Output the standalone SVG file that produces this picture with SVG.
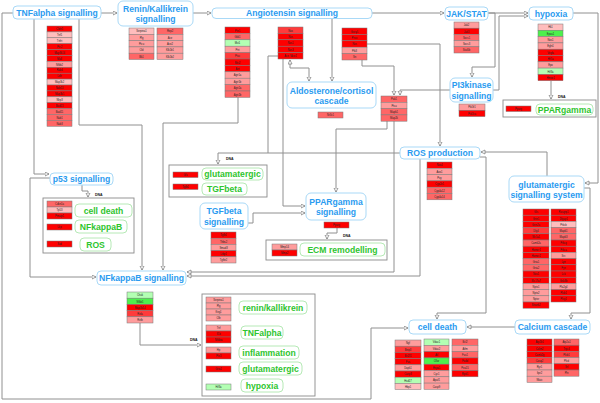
<svg xmlns="http://www.w3.org/2000/svg" width="600" height="403" viewBox="0 0 600 403">
<defs>
<style>
.n rect{fill:#fff;stroke:#a9d9f7;stroke-width:1}
.n text{font-family:"Liberation Sans",Arial,sans-serif;font-weight:bold;font-size:8.6px;fill:#2a9bf0;text-anchor:middle}
.l rect{fill:#fff;stroke:#a3e3a3;stroke-width:0.8}
.l text{font-family:"Liberation Sans",Arial,sans-serif;font-weight:bold;font-size:8.6px;fill:#2ec52e;text-anchor:middle}
.box{fill:#fff;stroke:#8a8a8a;stroke-width:0.9}
.t rect{stroke:#7a7a7a;stroke-width:0.5}
.t text{font-family:"Liberation Sans",Arial,sans-serif;font-size:2.6px;fill:#222;text-anchor:middle}
.r0{fill:#fe0000}.r1{fill:#ff3b3b}.r2{fill:#ff6666}.r3{fill:#ff9c9c}.r4{fill:#ffbdbd}.g1{fill:#4df04d}.g2{fill:#b3ffb3}
#edges path{fill:none;stroke:#909090;stroke-width:1;marker-end:url(#a)}
.dna{font-family:"Liberation Sans",Arial,sans-serif;font-weight:bold;font-size:3.5px;fill:#111}
</style>
<marker id="a" markerUnits="userSpaceOnUse" markerWidth="6" markerHeight="6" refX="4.5" refY="2.5" orient="auto-start-reverse"><path d="M0.5,0.5 L4.5,2.5 L0.5,4.5 z" fill="#fff" stroke="#777" stroke-width="0.7"/></marker>
</defs>
<rect width="600" height="403" fill="#fff"/>

<g id="edges">
<path d="M13,13 H2 V399 H371 V328 H408"/>
<path d="M101,13 H117"/>
<path d="M193,13 H211"/>
<path d="M372,13 H444"/>
<path d="M488,13 H528"/>
<path d="M488,13 H495 V67 H472 V77"/>
<path d="M493,90 H499 V16 H528"/>
<path d="M450,90 H400 V95"/>
<path d="M362,60 V66 H394 V95"/>
<path d="M332,18.5 V81"/>
<path d="M309,81 V68 H290 V60" style="marker-start:url(#a)"/>
<path d="M278,56 H268 V153" style="marker-end:none"/>
<path d="M283,59 V206 H305"/>
<path d="M248,223 H253 V213 H305"/>
<path d="M387,121 V129 H336 V192"/>
<path d="M394,121 V272 H187"/>
<path d="M420,159 V276 H187"/>
<path d="M400,153 H218 V164"/>
<path d="M367,44 H440 V146"/>
<path d="M547,176 V152 H481"/>
<path d="M480,157 H486 V313 H437 V319"/>
<path d="M573,13 H598 V183 H585"/>
<path d="M584,188 H590 V313 H571 V319"/>
<path d="M515,327 H467"/>
<path d="M551,81 V99"/>
<path d="M82,185 V191 H88 V197"/>
<path d="M337,228 V233 H327 V239"/>
<path d="M140,323 V345 H201"/>
<path d="M34,19 V174 H49"/>
<path d="M50,178 H30 V277 H96"/>
<path d="M79,19 V125 H142 V270"/>
<path d="M238,97 V123 H163 V270"/>
</g>
<text class="dna" x="95" y="196">DNA</text>
<text class="dna" x="226" y="160">DNA</text>
<text class="dna" x="343" y="237">DNA</text>
<text class="dna" x="558" y="98">DNA</text>
<text class="dna" x="190" y="341">DNA</text>

<!-- nodes -->
<g id="tnf" class="n"><rect x="13" y="6" width="88" height="13" rx="4"/><text x="57" y="15.8">TNFalpha signalling</text></g>
<g id="renin" class="n"><rect x="118" y="1" width="75" height="25" rx="5"/><text x="155.5" y="11.5">Renin/Kallikrein</text><text x="155.5" y="21.5">signalling</text></g>
<g id="angio" class="n"><rect x="212" y="8" width="160" height="10.5" rx="4"/><text x="292" y="16.3">Angiotensin signalling</text></g>
<g id="jak" class="n"><rect x="445" y="7" width="43" height="13" rx="4"/><text x="466.5" y="16.5">JAK/STAT</text></g>
<g id="hypoxia" class="n"><rect x="529" y="7" width="44" height="13" rx="4"/><text x="551" y="16.5">hypoxia</text></g>
<g id="pi3k" class="n"><rect x="450" y="78" width="43" height="24" rx="5"/><text x="471.5" y="88">PI3kinase</text><text x="471.5" y="98.5">signalling</text></g>
<g id="aldo" class="n"><rect x="287" y="82" width="89" height="26" rx="5"/><text x="331.5" y="93.5">Aldosterone/cortisol</text><text x="331.5" y="104">cascade</text></g>
<g id="ros" class="n"><rect x="400" y="147" width="80" height="12" rx="4"/><text x="440" y="156">ROS production</text></g>
<g id="glusys" class="n"><rect x="509" y="176" width="75" height="26" rx="5"/><text x="546.5" y="187.5">glutamatergic</text><text x="546.5" y="198">signalling system</text></g>
<g id="p53" class="n"><rect x="50" y="173" width="63" height="12" rx="4"/><text x="81.5" y="182">p53 signalling</text></g>
<g id="tgfb" class="n"><rect x="200" y="203" width="48" height="26" rx="5"/><text x="224" y="214">TGFbeta</text><text x="224" y="225">signalling</text></g>
<g id="pparg" class="n"><rect x="306" y="193" width="60" height="27" rx="5"/><text x="336" y="204.5">PPARgamma</text><text x="336" y="215">signalling</text></g>
<g id="nfkb" class="n"><rect x="97" y="271" width="89" height="14" rx="4"/><text x="141.5" y="281">NFkappaB signalling</text></g>
<g id="celldeath" class="n"><rect x="409" y="320" width="57" height="14" rx="4"/><text x="437.5" y="330">cell death</text></g>
<g id="calcium" class="n"><rect x="515" y="320" width="75" height="14" rx="4"/><text x="552.5" y="330">Calcium cascade</text></g>

<!-- DNA target boxes -->
<g id="p53-targets">
<rect class="box" x="43" y="198" width="91" height="55"/>
<g class="t" transform="translate(47,201)">
<rect class="r2" y="0" width="25" height="6"/><text x="12.5" y="4.2">Cdkn1a</text>
<rect class="r4" y="6" width="25" height="6"/><text x="12.5" y="10.2">Tp53</text>
<rect class="r0" y="12" width="25" height="6"/><text x="12.5" y="16.2">Pmaip1</text>
<rect class="r0" y="23" width="25" height="6"/><text x="12.5" y="27.2">Ucp</text>
<rect class="r0" y="40" width="25" height="6"/><text x="12.5" y="44.2">Sod</text>
</g>
<g class="l"><rect x="75" y="204" width="57" height="13" rx="4"/><text x="103.5" y="213.5">cell death</text></g>
<g class="l"><rect x="75" y="220" width="52" height="13" rx="4"/><text x="101" y="229.5">NFkappaB</text></g>
<g class="l"><rect x="80" y="238" width="31" height="13" rx="4"/><text x="95.5" y="247.5">ROS</text></g>
</g>

<g id="ros-targets">
<rect class="box" x="169" y="165" width="98" height="32"/>
<g class="t" transform="translate(173,172)">
<rect class="r0" y="0" width="25" height="5.5"/><text x="12.5" y="3.9">Gls</text>
<rect class="r0" y="12" width="25" height="5.5"/><text x="12.5" y="15.9">Tgfb1</text>
</g>
<g class="l"><rect x="202" y="168" width="61" height="12" rx="4"/><text x="232.5" y="177">glutamatergic</text></g>
<g class="l"><rect x="202" y="183" width="45" height="12" rx="4"/><text x="224.5" y="192">TGFbeta</text></g>
</g>

<g id="pparg-targets">
<rect class="box" x="266" y="240" width="121" height="20"/>
<g class="t" transform="translate(272,244)">
<rect class="r3" y="0" width="25" height="6"/><text x="12.5" y="4.2">Mmp14</text>
<rect class="r0" y="6" width="25" height="6"/><text x="12.5" y="10.2">Mmp2</text>
</g>
<g class="l"><rect x="300" y="243" width="85" height="13" rx="4"/><text x="342.5" y="252.5">ECM remodelling</text></g>
</g>

<g id="hypoxia-targets">
<rect class="box" x="503" y="100" width="93" height="17"/>
<g class="t" transform="translate(506,106)">
<rect class="r0" y="0" width="25" height="5.5"/><text x="12.5" y="3.9">Pparg</text>
</g>
<g class="l"><rect x="536" y="104" width="57" height="11" rx="4"/><text x="564.5" y="112.7">PPARgamma</text></g>
</g>

<g id="nfkb-targets">
<rect class="box" x="202" y="294" width="113" height="102"/>
<g class="t" transform="translate(206,297)">
<rect class="r3" y="0" width="25" height="6"/><text x="12.5" y="4.2">Serpina1</text>
<rect class="r3" y="6" width="25" height="6"/><text x="12.5" y="10.2">Plg</text>
<rect class="r3" y="12" width="25" height="6"/><text x="12.5" y="16.2">Kng1</text>
<rect class="r3" y="18" width="25" height="6"/><text x="12.5" y="22.2">Cfb</text>
<rect class="r3" y="28" width="25" height="6"/><text x="12.5" y="32.2">Tnf</text>
<rect class="r0" y="34" width="25" height="6"/><text x="12.5" y="38.2">Il1b</text>
<rect class="r0" y="40" width="25" height="6"/><text x="12.5" y="44.2">Nfkbia</text>
<rect class="r3" y="50" width="25" height="6"/><text x="12.5" y="54.2">Hp</text>
<rect class="r0" y="56" width="25" height="6"/><text x="12.5" y="60.2">Ptx3</text>
<rect class="r0" y="69" width="25" height="6"/><text x="12.5" y="73.2">Gria1</text>
<rect class="g2" y="87" width="25" height="6"/><text x="12.5" y="91.2">Hif3a</text>
</g>
<g class="l"><rect x="239" y="301" width="68" height="13" rx="4"/><text x="273" y="310.5">renin/kallikrein</text></g>
<g class="l"><rect x="241" y="326" width="42" height="13" rx="4"/><text x="262" y="335.5">TNFalpha</text></g>
<g class="l"><rect x="239" y="346" width="60" height="13" rx="4"/><text x="269" y="355.5">inflammation</text></g>
<g class="l"><rect x="239" y="362" width="63" height="13" rx="4"/><text x="270.5" y="371.5">glutamatergic</text></g>
<g class="l"><rect x="241" y="379" width="42" height="13" rx="4"/><text x="262" y="388.5">hypoxia</text></g>
</g>

<!-- gene tables -->
<g id="tnf-genes" class="t" transform="translate(47,26)">
<rect class="r0" y="0" width="25" height="5.9"/><text x="12.5" y="4.1">Cldn5</text>
<rect class="r4" y="5.9" width="25" height="5.9"/><text x="12.5" y="10">Tnf1</text>
<rect class="r4" y="11.8" width="25" height="5.9"/><text x="12.5" y="15.9">Tnfrt</text>
<rect class="r0" y="17.7" width="25" height="5.9"/><text x="12.5" y="21.8">Ptc2</text>
<rect class="r0" y="23.6" width="25" height="5.9"/><text x="12.5" y="27.7">Map3k14</text>
<rect class="r0" y="29.5" width="25" height="5.9"/><text x="12.5" y="33.6">Mall</text>
<rect class="r3" y="35.4" width="25" height="5.9"/><text x="12.5" y="39.5">Nfkb2</text>
<rect class="r0" y="41.3" width="25" height="5.9"/><text x="12.5" y="45.4">Rab4</text>
<rect class="r0" y="47.2" width="25" height="5.9"/><text x="12.5" y="51.3">Ldlr</text>
<rect class="r4" y="53.1" width="25" height="5.9"/><text x="12.5" y="57.2">Map3k2</text>
<rect class="r0" y="59" width="25" height="5.9"/><text x="12.5" y="63.1">Nab13</text>
<rect class="r0" y="64.9" width="25" height="5.9"/><text x="12.5" y="69">Map3k1</text>
<rect class="r4" y="70.8" width="25" height="5.9"/><text x="12.5" y="74.9">Nlrp3</text>
<rect class="r0" y="76.7" width="25" height="5.9"/><text x="12.5" y="80.8">Bad13</text>
<rect class="r2" y="82.6" width="25" height="5.9"/><text x="12.5" y="86.7">Bad11</text>
<rect class="r2" y="88.5" width="25" height="5.9"/><text x="12.5" y="92.6">Nab1</text>
<rect class="r2" y="94.4" width="25" height="5.9"/><text x="12.5" y="98.5">Nab3</text>
</g>

<g id="renin-genes1" class="t" transform="translate(129,28)">
<rect class="r4" y="0" width="25" height="6.3"/><text x="12.5" y="4.4">Serpina1</text>
<rect class="r3" y="6.3" width="25" height="6.3"/><text x="12.5" y="10.7">Plg</text>
<rect class="r3" y="12.6" width="25" height="6.3"/><text x="12.5" y="17">Ptcu</text>
<rect class="r3" y="18.9" width="25" height="6.3"/><text x="12.5" y="23.3">Cfd</text>
<rect class="r2" y="25.2" width="25" height="6.3"/><text x="12.5" y="29.6">Bk1</text>
</g>
<g id="renin-genes2" class="t" transform="translate(157,28)">
<rect class="r2" y="0" width="26" height="6.3"/><text x="13" y="4.4">Rep2</text>
<rect class="r3" y="6.3" width="26" height="6.3"/><text x="13" y="10.7">Ace</text>
<rect class="r3" y="12.6" width="26" height="6.3"/><text x="13" y="17">Ace2</text>
<rect class="r3" y="18.9" width="26" height="6.3"/><text x="13" y="23.3">Klk1b1</text>
<rect class="r3" y="25.2" width="26" height="6.3"/><text x="13" y="29.6">Klk1b2</text>
</g>

<g id="angio-genesA" class="t" transform="translate(225,27)">
<rect class="r0" y="0" width="25" height="6.4"/><text x="12.5" y="4.5">Ptn1</text>
<rect class="r2" y="6.4" width="25" height="6.4"/><text x="12.5" y="10.9">Gkk1</text>
<rect class="g2" y="12.8" width="25" height="6.4"/><text x="12.5" y="17.3">Mst1</text>
<rect class="r3" y="19.2" width="25" height="6.4"/><text x="12.5" y="23.7">Pnt</text>
<rect class="r1" y="25.6" width="25" height="6.4"/><text x="12.5" y="30.1">Ptsc</text>
<rect class="r0" y="32" width="25" height="6.4"/><text x="12.5" y="36.5">Mst2</text>
<rect class="r0" y="38.4" width="25" height="6.4"/><text x="12.5" y="42.9">Ant</text>
<rect class="r3" y="44.8" width="25" height="6.4"/><text x="12.5" y="49.3">Agtr1a</text>
<rect class="r3" y="51.2" width="25" height="6.4"/><text x="12.5" y="55.7">Agtr1b</text>
<rect class="r2" y="57.6" width="25" height="6.4"/><text x="12.5" y="62.1">Agtr2a</text>
<rect class="r2" y="64" width="25" height="6.4"/><text x="12.5" y="68.5">Agtr2b</text>
</g>
<g id="angio-genesB" class="t" transform="translate(278,27)">
<rect class="r1" y="0" width="25" height="6.4"/><text x="12.5" y="4.5">Nox</text>
<rect class="r0" y="6.4" width="25" height="6.4"/><text x="12.5" y="10.9">Nos</text>
<rect class="r0" y="12.8" width="25" height="6.4"/><text x="12.5" y="17.3">Nos1</text>
<rect class="r0" y="19.2" width="25" height="6.4"/><text x="12.5" y="23.7">Nos3</text>
<rect class="r0" y="25.6" width="25" height="6.4"/><text x="12.5" y="30.1">Ace / Ace2</text>
</g>
<g id="angio-genesC" class="t" transform="translate(342,28)">
<rect class="r0" y="0" width="25" height="6.4"/><text x="12.5" y="4.5">Gucy1</text>
<rect class="r0" y="6.4" width="25" height="6.4"/><text x="12.5" y="10.9">Pnoc</text>
<rect class="r0" y="12.8" width="25" height="6.4"/><text x="12.5" y="17.3">Nos</text>
<rect class="r3" y="19.2" width="25" height="6.4"/><text x="12.5" y="23.7">Pik3</text>
<rect class="r2" y="25.6" width="25" height="6.4"/><text x="12.5" y="30.1">Sn</text>
</g>
<g id="aldo-genes" class="t" transform="translate(318,112)">
<rect class="r2" y="0" width="25" height="6"/><text x="12.5" y="4.2">Nr3c1</text>
</g>
<g id="pak-genes" class="t" transform="translate(381,96)">
<rect class="r2" y="0" width="26" height="6.3"/><text x="13" y="4.4">Pak1</text>
<rect class="r3" y="6.3" width="26" height="6.3"/><text x="13" y="10.7">Ptsu</text>
<rect class="r2" y="12.6" width="26" height="6.3"/><text x="13" y="17">Mapk1</text>
<rect class="r2" y="18.9" width="26" height="6.3"/><text x="13" y="23.3">Map2k</text>
</g>
<g id="jak-genes" class="t" transform="translate(454,22)">
<rect class="r3" y="0" width="25" height="6.2"/><text x="12.5" y="4.4">Jak2</text>
<rect class="r0" y="6.2" width="25" height="6.2"/><text x="12.5" y="10.6">Jak3</text>
<rect class="r2" y="12.4" width="25" height="6.2"/><text x="12.5" y="16.8">Socs1</text>
<rect class="r3" y="18.6" width="25" height="6.2"/><text x="12.5" y="23">Socs3</text>
<rect class="r2" y="24.8" width="25" height="6.2"/><text x="12.5" y="29.2">Stat5b</text>
</g>
<g id="pi3k-genes" class="t" transform="translate(459,104)">
<rect class="r3" y="0" width="26" height="6.3"/><text x="13" y="4.4">Pik3r1</text>
<rect class="r0" y="6.3" width="26" height="6.3"/><text x="13" y="10.7">Pik3ca</text>
</g>
<g id="hypoxia-genes" class="t" transform="translate(538,24)">
<rect class="r4" y="0" width="25" height="6.3"/><text x="12.5" y="4.4">Hk1</text>
<rect class="g1" y="6.3" width="25" height="6.3"/><text x="12.5" y="10.7">Epas1</text>
<rect class="r3" y="12.6" width="25" height="6.3"/><text x="12.5" y="17">Nos1</text>
<rect class="r3" y="18.9" width="25" height="6.3"/><text x="12.5" y="23.3">Egln1</text>
<rect class="r0" y="25.2" width="25" height="6.3"/><text x="12.5" y="29.6">Vegfa</text>
<rect class="r0" y="31.5" width="25" height="6.3"/><text x="12.5" y="35.9">Hif1a</text>
<rect class="r3" y="37.8" width="25" height="6.3"/><text x="12.5" y="42.2">Epo</text>
<rect class="g2" y="44.1" width="25" height="6.3"/><text x="12.5" y="48.5">Hif3a</text>
<rect class="r0" y="50.4" width="25" height="6.3"/><text x="12.5" y="54.8">Hmox1</text>
</g>
<g id="ros-genes" class="t" transform="translate(427,162)">
<rect class="r0" y="0" width="25" height="6.3"/><text x="12.5" y="4.4">Nox4</text>
<rect class="r3" y="6.3" width="25" height="6.3"/><text x="12.5" y="10.7">Aox1</text>
<rect class="r3" y="12.6" width="25" height="6.3"/><text x="12.5" y="17">Pxy</text>
<rect class="r0" y="18.9" width="25" height="6.3"/><text x="12.5" y="23.3">Cyp2e1</text>
<rect class="r2" y="25.2" width="25" height="6.3"/><text x="12.5" y="29.6">Cyp4a12</text>
<rect class="r2" y="31.5" width="25" height="6.3"/><text x="12.5" y="35.9">Cyp4a14</text>
</g>
<g id="tgfb-genes" class="t" transform="translate(211,232)">
<rect class="r0" y="0" width="25" height="6.2"/><text x="12.5" y="4.4">Tgfb1</text>
<rect class="r2" y="6.2" width="25" height="6.2"/><text x="12.5" y="10.6">Thbs2</text>
<rect class="r3" y="12.4" width="25" height="6.2"/><text x="12.5" y="16.8">Smad3</text>
<rect class="r0" y="18.6" width="25" height="6.2"/><text x="12.5" y="23">Ltbp1</text>
<rect class="r3" y="24.8" width="25" height="6.2"/><text x="12.5" y="29.2">Tgfbr2</text>
</g>
<g id="pparg-genes" class="t" transform="translate(324,222)">
<rect class="r0" y="0" width="25" height="6"/><text x="12.5" y="4.2">Pparg</text>
</g>
<g id="nfkb-genes" class="t" transform="translate(127,292)">
<rect class="g2" y="0" width="26" height="6.2"/><text x="13" y="4.4">Chuk</text>
<rect class="g1" y="6.2" width="26" height="6.2"/><text x="13" y="10.6">Nfkb1</text>
<rect class="r0" y="12.4" width="26" height="6.2"/><text x="13" y="16.8">Map3k14</text>
<rect class="r1" y="18.6" width="26" height="6.2"/><text x="13" y="23">Rela</text>
<rect class="r3" y="24.8" width="26" height="6.2"/><text x="13" y="29.2">Relb</text>
</g>
<g id="glusys-genes1" class="t" transform="translate(523,209)">
<rect class="r0" y="0" width="26" height="6.2"/><text x="13" y="4.4">Gls</text>
<rect class="r0" y="6.2" width="26" height="6.2"/><text x="13" y="10.6">Grin1</text>
<rect class="r0" y="12.4" width="26" height="6.2"/><text x="13" y="16.8">Grin2a</text>
<rect class="r1" y="18.6" width="26" height="6.2"/><text x="13" y="23">Dlg4</text>
<rect class="r0" y="24.8" width="26" height="6.2"/><text x="13" y="29.2">Slc1a1</text>
<rect class="r2" y="31" width="26" height="6.2"/><text x="13" y="35.4">Camk2a</text>
<rect class="r0" y="37.2" width="26" height="6.2"/><text x="13" y="41.6">Homer1</text>
<rect class="r0" y="43.4" width="26" height="6.2"/><text x="13" y="47.8">Homer2</text>
<rect class="r2" y="49.6" width="26" height="6.2"/><text x="13" y="54">Gria1</text>
<rect class="r2" y="55.8" width="26" height="6.2"/><text x="13" y="60.2">Gria2</text>
<rect class="r0" y="62" width="26" height="6.2"/><text x="13" y="66.4">Nos1</text>
<rect class="r0" y="68.2" width="26" height="6.2"/><text x="13" y="72.6">Slc17a7</text>
<rect class="r3" y="74.4" width="26" height="6.2"/><text x="13" y="78.8">Nptx1</text>
<rect class="r3" y="80.6" width="26" height="6.2"/><text x="13" y="85">Nptx2</text>
<rect class="r3" y="86.8" width="26" height="6.2"/><text x="13" y="91.2">Nptxr</text>
<rect class="r0" y="93" width="26" height="6.2"/><text x="13" y="97.4">Shank2</text>
</g>
<g id="glusys-genes2" class="t" transform="translate(551,209)">
<rect class="r0" y="0" width="25" height="6.2"/><text x="12.5" y="4.4">Rasgrp1</text>
<rect class="r0" y="6.2" width="25" height="6.2"/><text x="12.5" y="10.6">Dlgap1</text>
<rect class="r4" y="12.4" width="25" height="6.2"/><text x="12.5" y="16.8">Prkcb</text>
<rect class="r2" y="18.6" width="25" height="6.2"/><text x="12.5" y="23">Mapk1</text>
<rect class="r2" y="24.8" width="25" height="6.2"/><text x="12.5" y="29.2">Mapk3</text>
<rect class="r0" y="31" width="25" height="6.2"/><text x="12.5" y="35.4">Prkcg</text>
<rect class="r0" y="37.2" width="25" height="6.2"/><text x="12.5" y="41.6">Prkca</text>
<rect class="r3" y="43.4" width="25" height="6.2"/><text x="12.5" y="47.8">Src</text>
<rect class="r0" y="49.6" width="25" height="6.2"/><text x="12.5" y="54">Lyn</text>
<rect class="r0" y="55.8" width="25" height="6.2"/><text x="12.5" y="60.2">Fyn</text>
<rect class="r0" y="62" width="25" height="6.2"/><text x="12.5" y="66.4">Lck</text>
<rect class="r0" y="68.2" width="25" height="6.2"/><text x="12.5" y="72.6">Gsk3b</text>
<rect class="r3" y="74.4" width="25" height="6.2"/><text x="12.5" y="78.8">Pla2g4</text>
<rect class="r0" y="80.6" width="25" height="6.2"/><text x="12.5" y="85">Plcb1</text>
<rect class="r0" y="86.8" width="25" height="6.2"/><text x="12.5" y="91.2">Plcg1</text>
</g>
<g id="calcium-genes1" class="t" transform="translate(527,339)">
<rect class="r0" y="0" width="25" height="6.2"/><text x="12.5" y="4.4">Atp2b1</text>
<rect class="r0" y="6.2" width="25" height="6.2"/><text x="12.5" y="10.6">Calm2</text>
<rect class="r0" y="12.4" width="25" height="6.2"/><text x="12.5" y="16.8">Camk2g</text>
<rect class="r1" y="18.6" width="25" height="6.2"/><text x="12.5" y="23">Casq2</text>
<rect class="r3" y="24.8" width="25" height="6.2"/><text x="12.5" y="29.2">Ryr1</text>
<rect class="r3" y="31" width="25" height="6.2"/><text x="12.5" y="35.4">Itpr2</text>
<rect class="r3" y="37.2" width="25" height="6.2"/><text x="12.5" y="41.6">Nfatc</text>
</g>
<g id="calcium-genes2" class="t" transform="translate(554,339)">
<rect class="r2" y="0" width="25" height="6.2"/><text x="12.5" y="4.4">Atp2a1</text>
<rect class="r0" y="6.2" width="25" height="6.2"/><text x="12.5" y="10.6">Trpc4</text>
<rect class="r1" y="12.4" width="25" height="6.2"/><text x="12.5" y="16.8">Plcb1</text>
<rect class="r3" y="18.6" width="25" height="6.2"/><text x="12.5" y="23">Plcd</text>
<rect class="r0" y="24.8" width="25" height="6.2"/><text x="12.5" y="29.2">Srl</text>
<rect class="r2" y="31" width="25" height="6.2"/><text x="12.5" y="35.4">Pln</text>
</g>
<g id="celldeath-genes1" class="t" transform="translate(395,340)">
<rect class="r3" y="0" width="26" height="6.2"/><text x="13" y="4.4">Ngf</text>
<rect class="r1" y="6.2" width="26" height="6.2"/><text x="13" y="10.6">Bnip3</text>
<rect class="r0" y="12.4" width="26" height="6.2"/><text x="13" y="16.8">Bcl2l1</text>
<rect class="r0" y="18.6" width="26" height="6.2"/><text x="13" y="23">Fas</text>
<rect class="r3" y="24.8" width="26" height="6.2"/><text x="13" y="29.2">Dapk1</text>
<rect class="r0" y="31" width="26" height="6.2"/><text x="13" y="35.4">Casp3</text>
<rect class="g2" y="37.2" width="26" height="6.2"/><text x="13" y="41.6">Hsd17</text>
<rect class="r4" y="43.4" width="26" height="6.2"/><text x="13" y="47.8">Hbp1</text>
</g>
<g id="celldeath-genes2" class="t" transform="translate(424,339)">
<rect class="g2" y="0" width="25" height="6.3"/><text x="12.5" y="4.4">Vdac1</text>
<rect class="r3" y="6.3" width="25" height="6.3"/><text x="12.5" y="10.7">Vdac2</text>
<rect class="r0" y="12.6" width="25" height="6.3"/><text x="12.5" y="17">Aif</text>
<rect class="g1" y="18.9" width="25" height="6.3"/><text x="12.5" y="23.3">Cflar</text>
<rect class="r0" y="25.2" width="25" height="6.3"/><text x="12.5" y="29.6">Hspa1</text>
<rect class="r3" y="31.5" width="25" height="6.3"/><text x="12.5" y="35.9">Cyc1</text>
<rect class="r3" y="37.8" width="25" height="6.3"/><text x="12.5" y="42.2">Apaf1</text>
<rect class="r3" y="44.1" width="25" height="6.3"/><text x="12.5" y="48.5">Casp9</text>
</g>
<g id="celldeath-genes3" class="t" transform="translate(452,339)">
<rect class="r2" y="0" width="26" height="6.3"/><text x="13" y="4.4">Bcl2</text>
<rect class="r3" y="6.3" width="26" height="6.3"/><text x="13" y="10.7">Aifm</text>
<rect class="r2" y="12.6" width="26" height="6.3"/><text x="13" y="17">Fas1</text>
<rect class="r0" y="18.9" width="26" height="6.3"/><text x="13" y="23.3">Fadd</text>
<rect class="r2" y="25.2" width="26" height="6.3"/><text x="13" y="29.6">Pea15</text>
<rect class="r0" y="31.5" width="26" height="6.3"/><text x="13" y="35.9">Ripk1</text>
</g>
</svg>
